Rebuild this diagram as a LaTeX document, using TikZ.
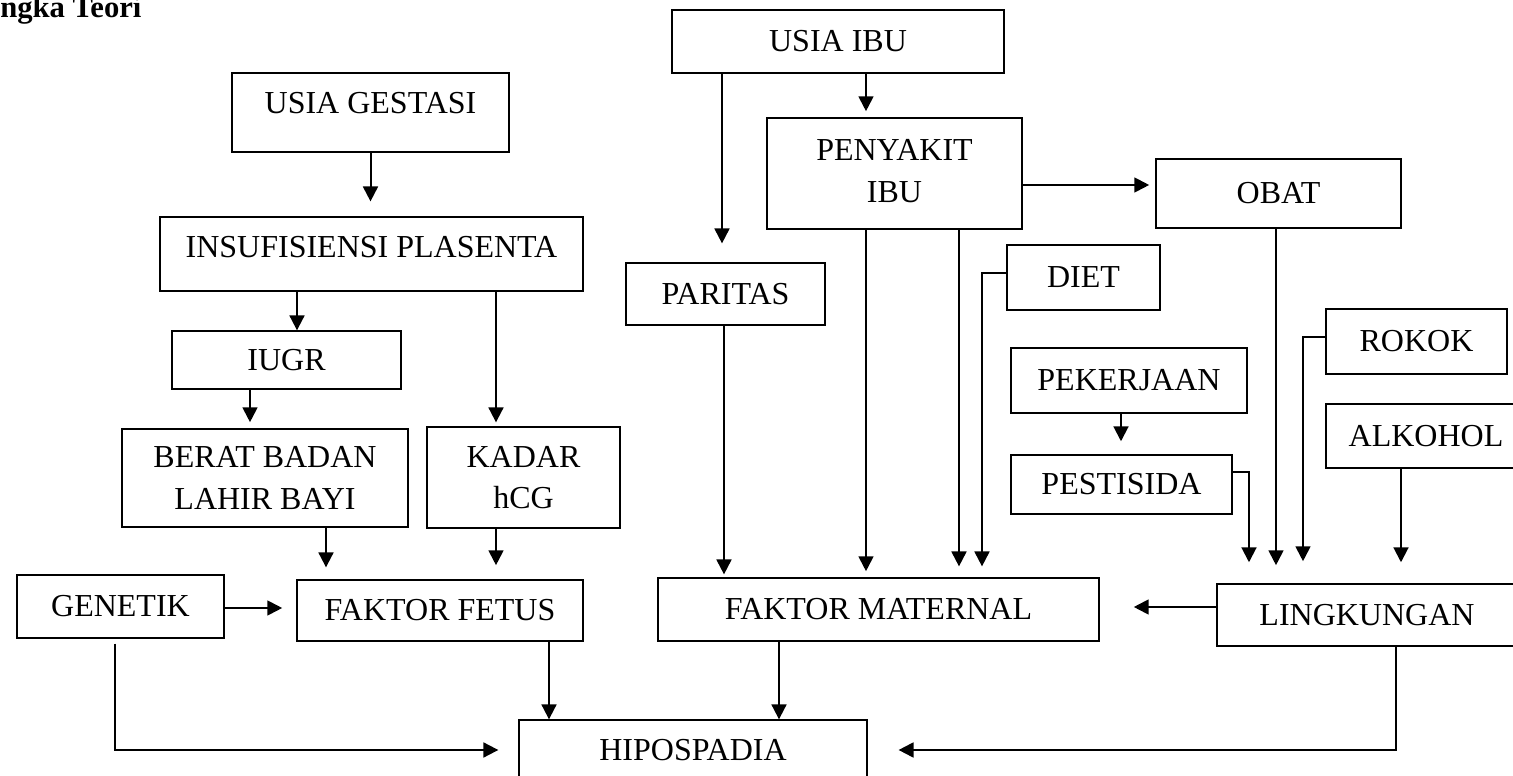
\documentclass[tikz,border=0pt]{standalone}
\usepackage{fontspec}
\setmainfont{Liberation Serif}
\usepackage{tikz}
\usetikzlibrary{arrows.meta}

\begin{document}
\begin{tikzpicture}[x=0.375pt,y=-0.375pt,
							every node/.style={font=\fontsize{12}{15.5}\selectfont},
							box/.style 2 args={draw,line width=0.5pt,inner sep=0pt,align=center,
								minimum width=#1*0.375pt,minimum height=#2*0.375pt},
							conn/.style={line width=0.75pt,-{Triangle[length=5.6pt,width=5.6pt]}}]
			\useasboundingbox (0,0) rectangle (1513,776);
			\node[font=\bfseries\fontsize{11.5}{13}\selectfont,anchor=base east,inner sep=0pt] (judul) at (142,18) {ngka Teori};
			\node[box={277}{79},text depth=7.1pt] (gestasi) at (370.5,112.5) {USIA GESTASI};
			\node[box={423}{74},text depth=5.2pt] (insuf) at (371.5,254) {INSUFISIENSI PLASENTA};
			\node[box={229}{58}] (iugr) at (286.5,360) {IUGR};
			\node[box={286}{98}] (berat) at (265,478) {BERAT BADAN\\LAHIR BAYI};
			\node[box={193}{101}] (kadar) at (523.5,477.5) {KADAR\\hCG};
			\node[box={207}{63}] (genetik) at (120.5,606.5) {GENETIK};
			\node[box={286}{61}] (fetus) at (440,610.5) {FAKTOR FETUS};
			\node[box={348}{60}] (hipo) at (693,750) {HIPOSPADIA};
			\node[box={332}{63}] (usiaibu) at (838,41.5) {USIA IBU};
			\node[box={199}{62}] (paritas) at (725.5,294) {PARITAS};
			\node[box={255}{111},text depth=2pt] (penyakit) at (894.5,173.5) {PENYAKIT\\IBU};
			\node[box={245}{69}] (obat) at (1278.5,193.5) {OBAT};
			\node[box={153}{65}] (diet) at (1083.5,277.5) {DIET};
			\node[box={236}{65}] (pekerjaan) at (1129,380.5) {PEKERJAAN};
			\node[box={221}{59}] (pestisida) at (1121.5,484.5) {PESTISIDA};
			\node[box={181}{65}] (rokok) at (1416.5,341.5) {ROKOK};
			\node[box={200}{64}] (alkohol) at (1426,436) {ALKOHOL};
			\node[box={441}{63}] (maternal) at (878.5,609.5) {FAKTOR MATERNAL};
			\node[box={300}{62}] (lingkungan) at (1367,615) {LINGKUNGAN};

			\draw[conn,shorten >=5.6pt] (gestasi.south) -- (gestasi.south |- insuf.north);
			\draw[conn] (297,0 |- insuf.south) -- (297,0 |- iugr.north);
			\draw[conn,shorten >=1.5pt] (496,0 |- insuf.south) -- (496,0 |- kadar.north);
			\draw[conn,shorten >=2.3pt] (250,0 |- iugr.south) -- (250,0 |- berat.north);
			\draw[conn,shorten >=4.5pt] (326,0 |- berat.south) -- (326,0 |- fetus.north);
			\draw[conn,shorten >=5.3pt] (496,0 |- kadar.south) -- (496,0 |- fetus.north);
			\draw[conn,shorten >=5.3pt] (genetik.east |- 0,608) -- (fetus.west |- 0,608);
			\draw[conn] (549,0 |- fetus.south) -- (549,0 |- hipo.north);
			\draw[conn,shorten <=1.9pt,shorten >=7.5pt] (115,0 |- genetik.south) |- (hipo.west);
			\draw[conn,shorten >=2.3pt] (866,0 |- usiaibu.south) -- (866,0 |- penyakit.north);
			\draw[conn,shorten >=7.1pt] (722,0 |- usiaibu.south) -- (722,0 |- paritas.north);
			\draw[conn,shorten >=1.1pt] (724,0 |- paritas.south) -- (724,0 |- maternal.north);
			\draw[conn,shorten >=2.3pt] (866,0 |- penyakit.south) -- (866,0 |- maternal.north);
			\draw[conn,shorten >=4.1pt] (959,0 |- penyakit.south) -- (959,0 |- maternal.north);
			\draw[conn,shorten >=4.1pt] (diet.west |- 0,273) -| (982,0 |- maternal.north);
			\draw[conn,shorten >=2.3pt] (penyakit.east |- 0,185) -- (obat.west |- 0,185);
			\draw[conn,shorten >=12.8pt] (lingkungan.west |- 0,607) -- (maternal.east |- 0,607);
			\draw[conn,shorten >=4.9pt] (1121,0 |- pekerjaan.south) -- (1121,0 |- pestisida.north);
			\draw[conn,shorten >=7.9pt] (pestisida.east |- 0,472) -| (1249,0 |- lingkungan.north);
			\draw[conn,shorten >=6.8pt] (1276,0 |- obat.south) -- (1276,0 |- lingkungan.north);
			\draw[conn,shorten >=8.3pt] (rokok.west |- 0,337) -| (1303,0 |- lingkungan.north);
			\draw[conn,shorten >=7.9pt] (1401,0 |- alkohol.south) -- (1401,0 |- lingkungan.north);
			\draw[conn] (779,0 |- maternal.south) -- (779,0 |- hipo.north);
			\draw[conn,shorten >=11.6pt] (1396,0 |- lingkungan.south) |- (hipo.east);
		\end{tikzpicture}
\end{document}
